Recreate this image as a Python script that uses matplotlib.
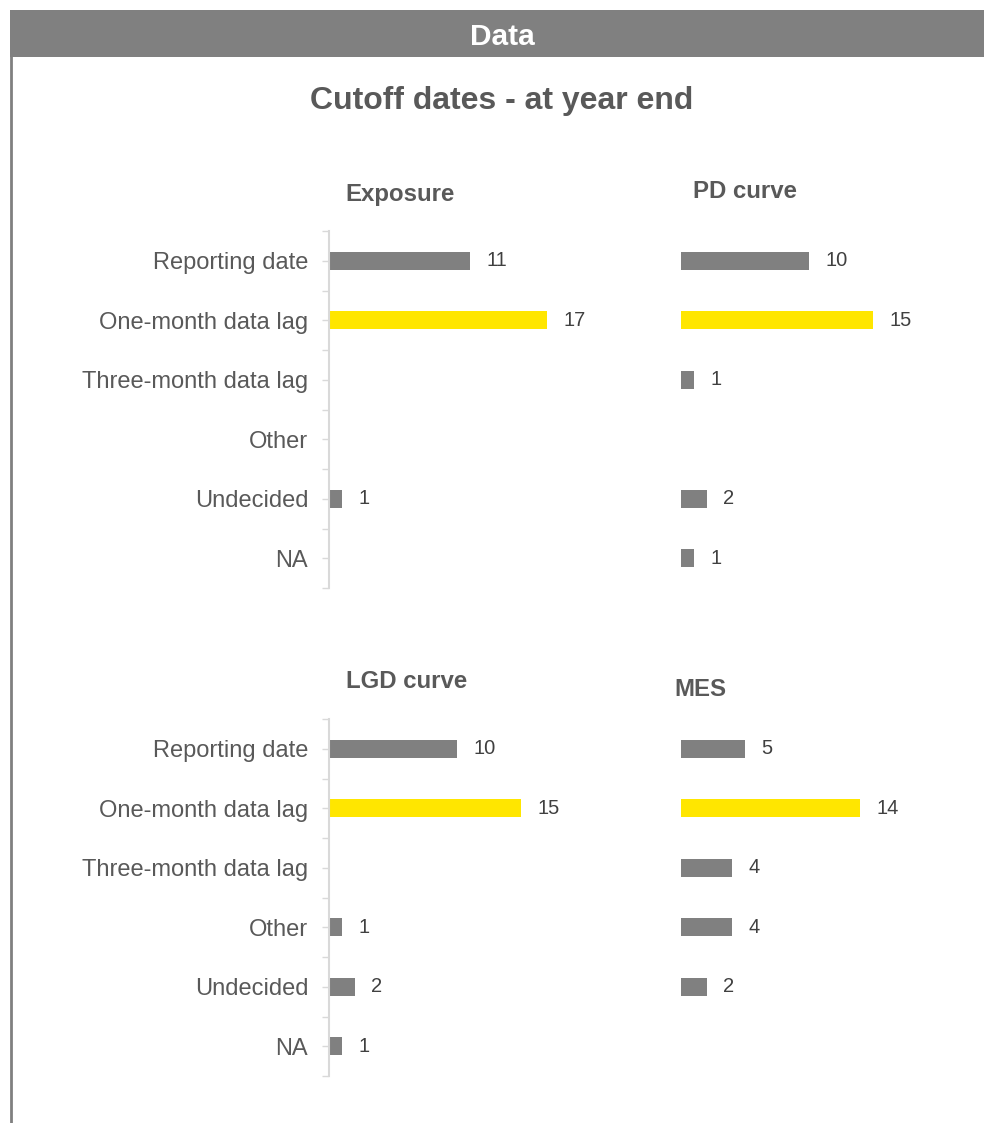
import numpy as np
import matplotlib
matplotlib.use("Agg")
import matplotlib.pyplot as plt
from matplotlib.patches import Rectangle
from matplotlib.lines import Line2D

plt.rcParams['font.family'] = ['Liberation Sans', 'DejaVu Sans']

categories = ["Reporting date", "One-month data lag", "Three-month data lag",
              "Other", "Undecided", "NA"]
exposure = [11, 17, None, None, 1, None]
pd_curve = [10, 15, 1, None, 2, 1]
lgd_curve = [10, 15, None, 1, 2, 1]
mes = [5, 14, 4, 4, 2, None]

panel_titles = ["Exposure", "PD curve", "LGD curve", "MES"]
header_text = "Data"
chart_title = "Cutoff dates - at year end"

GREY = "#808080"
YELLOW = "#FFE600"
TEXT = "#595959"
VALUE = "#404040"
AXIS = "#D9D9D9"
HIGHLIGHT = "One-month data lag"

W, H = 984, 1123
fig = plt.figure(figsize=(W / 100, H / 100), dpi=100)


def px_axes(x0, y0, x1, y1):
    """Add axes from pixel box (top-left origin)."""
    return fig.add_axes([x0 / W, 1 - y1 / H, (x1 - x0) / W, (y1 - y0) / H])


# Frame: header band and left rule
bg = fig.add_axes([0, 0, 1, 1])
bg.set_xlim(0, W)
bg.set_ylim(H, 0)
bg.axis("off")
bg.add_patch(Rectangle((10, 10), W - 10, 47, facecolor=GREY, edgecolor="none"))
bg.add_line(Line2D([10.5, 10.5], [57, H], color=GREY, lw=2))
bg.text(502, 37, header_text, ha="center", va="center", color="white",
        fontsize=21.5, fontweight="bold")
bg.text(502, 101, chart_title, ha="center", va="center", color=TEXT,
        fontsize=23, fontweight="bold")

panels = [
    (exposure, 329, 231, 588, True, (400, 195)),
    (pd_curve, 681, 231, 588, False, (745, 191)),
    (lgd_curve, 329, 719, 1076, True, (407, 681)),
    (mes, 681, 719, 1076, False, (700, 689)),
]

y = np.arange(len(categories))
for (vals, x0, y0, y1, show_axis, tpos), title in zip(panels, panel_titles):
    ax = px_axes(x0, y0, x0 + 256, y1)
    widths = [v if v is not None else 0 for v in vals]
    colors = [YELLOW if c == HIGHLIGHT else GREY for c in categories]
    ax.barh(y, widths, height=0.31, color=colors, edgecolor="none")
    for yi, v in zip(y, vals):
        if v is not None:
            ax.annotate(str(v), (v, yi), xytext=(12, 0), textcoords="offset points",
                        ha="left", va="center", color=VALUE, fontsize=14.5)
    ax.set_xlim(0, 20)
    ax.set_ylim(len(categories) - 0.5, -0.5)
    for s in ("top", "right", "bottom"):
        ax.spines[s].set_visible(False)
    ax.set_xticks([])
    if show_axis:
        ax.spines["left"].set_color(AXIS)
        ax.spines["left"].set_linewidth(1.5)
        ax.set_yticks(y)
        ax.set_yticklabels(categories)
        ax.set_yticks(np.arange(-0.5, len(categories), 1.0), minor=True)
        ax.tick_params(axis="y", which="both", length=5, width=1, color=AXIS,
                       labelcolor=TEXT, labelsize=17, pad=10)
    else:
        ax.spines["left"].set_visible(False)
        ax.set_yticks([])
    ax.patch.set_alpha(0)
    bg.text(tpos[0], tpos[1], title, ha="center", va="center", color=TEXT,
            fontsize=17.3, fontweight="bold")

fig.savefig("out.png", dpi=100)
